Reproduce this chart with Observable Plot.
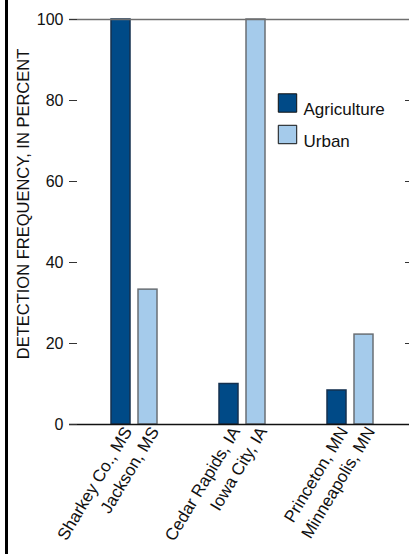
<!DOCTYPE html>
<html>
<head>
<meta charset="utf-8">
<script src="https://cdn.jsdelivr.net/npm/d3@7"></script>
<script src="https://cdn.jsdelivr.net/npm/@observablehq/plot@0.6"></script>
<style>
  html, body { margin: 0; padding: 0; background: #fff; }
  #wrap { position: relative; width: 409px; height: 554px; overflow: hidden; }
  #border { position: absolute; left: 5px; top: 0; width: 3px; height: 554px; background: #000; z-index: 2; }
  svg { font-family: "Liberation Sans", Arial, sans-serif; }
</style>
</head>
<body>
<div id="wrap"><div id="border"></div></div>
<script>
const sites = ["Sharkey Co., MS", "Jackson, MS", "Cedar Rapids, IA", "Iowa City, IA", "Princeton, MN", "Minneapolis, MN"];
const landUse = ["Agriculture", "Urban", "Agriculture", "Urban", "Agriculture", "Urban"];
const frequency = [100, 33.3, 10, 100, 8.4, 22.2];
const series = ["Agriculture", "Urban"];
const yTicks = [0, 20, 40, 60, 80, 100];
const innerTicks = [20, 40, 60, 80];
const yLabel = "DETECTION FREQUENCY, IN PERCENT";

const fills = {Agriculture: "#004a87", Urban: "#a5cbeb"};
const strokes = {Agriculture: "#14304f", Urban: "#6a6f74"};

const data = sites.map((s, i) => ({site: s, use: landUse[i], value: frequency[i]}));
// spacer bands between site groups
const xDomain = [sites[0], sites[1], "_a", "_b", sites[2], sites[3], "_c", "_d", sites[4], sites[5]];

const FONT = "Liberation Sans, Arial, sans-serif";

const chart = Plot.plot({
  width: 409,
  height: 554,
  marginLeft: 69,
  marginRight: 0,
  marginTop: 19,
  marginBottom: 130,
  style: {fontFamily: FONT, fontSize: "16px", background: "transparent", overflow: "visible"},
  x: {type: "band", domain: xDomain, range: [107, 378], paddingInner: 0.283, paddingOuter: 0, axis: null},
  y: {domain: [0, 100], axis: null},
  marks: [
    Plot.barY(data, {
      x: "site", y: "value",
      fill: d => fills[d.use],
      stroke: d => strokes[d.use],
      strokeWidth: 1.5
    }),
    // frame lines
    Plot.ruleY([100], {stroke: "#6f6f6f", strokeWidth: 1.6}),
    Plot.ruleX([0], {frameAnchor: "left", stroke: "#555", strokeWidth: 1.3, y1: 0, y2: 100}),
    Plot.ruleY([0], {stroke: "#111", strokeWidth: 1.6}),
    // inward ticks on left
    Plot.ruleY(yTicks, {stroke: "#333", strokeWidth: 1, insetRight: 340 - 8}),
    // inward ticks on right
    Plot.ruleY(innerTicks, {stroke: "#333", strokeWidth: 1, insetLeft: 340 - 4}),
    Plot.axisY(yTicks, {anchor: "left", tickSize: 0, tickPadding: 6, fontSize: 16, fill: "#111", label: null}),
    Plot.axisX(sites, {
      anchor: "bottom", tickSize: 0, tickPadding: 4, tickRotate: -59, fontSize: 17, fill: "#111", label: null,
      dx: 7
    }),
    // y-axis title
    Plot.text([yLabel], {
      text: d => d, frameAnchor: "left", rotate: -90, textAnchor: "middle",
      dx: -46, dy: -18, fontSize: 16.5, fill: "#111"
    }),
    // legend
    ...series.map((s, i) => Plot.dot([s], {
      frameAnchor: "top-left", dx: 218, dy: 83.5 + i * 31.5, symbol: "square", r: 10.4,
      fill: fills[s], stroke: "#111", strokeWidth: 1
    })),
    ...series.map((s, i) => Plot.text([s], {
      text: d => d, frameAnchor: "top-left", dx: 234, dy: 83.5 + i * 31.5, textAnchor: "start",
      fontSize: 17, fill: "#111"
    }))
  ]
});
document.getElementById("wrap").appendChild(chart);
</script>
</body>
</html>
